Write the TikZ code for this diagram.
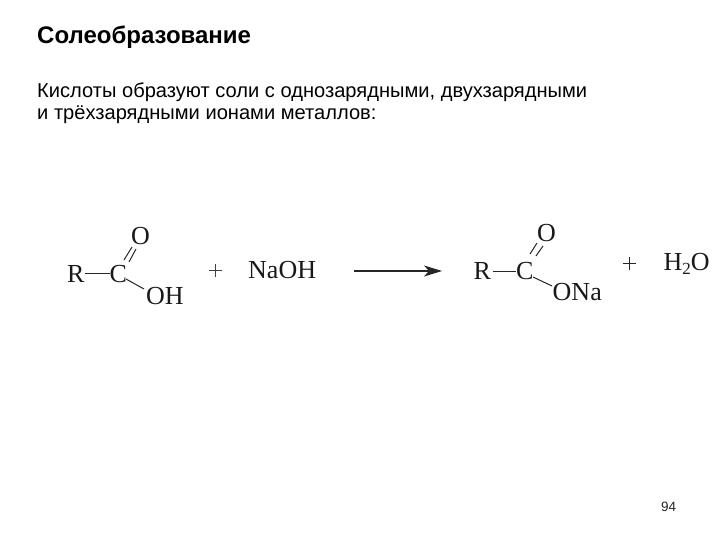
\documentclass[tikz,border=0pt]{standalone}
\usepackage{fontspec}
\setmainfont{Liberation Sans}
\newfontfamily\chem{Liberation Serif}
\usetikzlibrary{arrows.meta}
\tikzset{
  px/.style={x=1pt,y=-1pt},
  txt/.style={anchor=base west,inner sep=0pt,font=\fontsize{20.1}{22}\selectfont,text=black},
  ch/.style={anchor=base west,inner sep=0pt,font=\chem\fontsize{26}{28}\selectfont,text=black!90},
  bond/.style={line width=1pt,black!85}
}
\begin{document}
\begin{tikzpicture}[px]
\useasboundingbox (0,0) rectangle (720,540);
\fill[white] (0,0) rectangle (720,540);
\node[txt,font=\bfseries\fontsize{24}{26}\selectfont] (title) at (37,44) {Солеобразование};
\node[txt] (l1) at (37,98) {Кислоты образуют соли с однозарядными, двухзарядными};
\node[txt] (l2) at (37,120) {и трёхзарядными ионами металлов:};
% left acid
\node[ch] (r1) at (67,282) {R};
\node[ch] (c1) at (109.5,282) {C};
\node[ch] (o1) at (131,244) {O};
\node[ch] (oh1) at (146,304) {OH};
\coordinate (a1) at (85,273);
\coordinate (a2) at (110,273);
\draw[bond] (a1) -- (a2);
\coordinate (d1a) at (124,260);
\coordinate (d1b) at (132,247);
\coordinate (d2a) at (129,262);
\coordinate (d2b) at (136,249);
\draw[bond] (d1a) -- (d1b);
\draw[bond] (d2a) -- (d2b);
\coordinate (s1a) at (126,279);
\coordinate (s1b) at (144,289);
\draw[bond] (s1a) -- (s1b);
\coordinate (p1a) at (208.5,270);
\coordinate (p1b) at (221.5,270);
\coordinate (p1c) at (215,263.5);
\coordinate (p1d) at (215,276.5);
\draw[line width=0.6pt,black!75] (p1a) -- (p1b);
\draw[line width=0.6pt,black!75] (p1c) -- (p1d);
\node[ch] (naoh) at (248,278) {NaOH};
\coordinate (ar1) at (354,271);
\coordinate (ar2) at (442,271);
\draw[-{Stealth[length=18pt,width=11pt,inset=5pt]},line width=1.1pt,black!85] (ar1) -- (ar2);
% right
\node[ch] (r2) at (473.5,279) {R};
\node[ch] (c2) at (516,279) {C};
\node[ch] (o2) at (537,241) {O};
\node[ch] (ona) at (552.5,300) {ONa};
\coordinate (b1) at (493,271);
\coordinate (b2) at (516,271);
\draw[bond] (b1) -- (b2);
\coordinate (e1a) at (530,254);
\coordinate (e1b) at (537,243);
\coordinate (e2a) at (536,256);
\coordinate (e2b) at (543,246);
\draw[bond] (e1a) -- (e1b);
\draw[bond] (e2a) -- (e2b);
\coordinate (s2a) at (533,277);
\coordinate (s2b) at (552,286);
\draw[bond] (s2a) -- (s2b);
\coordinate (p2a) at (622.5,263);
\coordinate (p2b) at (635.5,263);
\coordinate (p2c) at (629,256.5);
\coordinate (p2d) at (629,269.5);
\draw[line width=1pt,black!85] (p2a) -- (p2b);
\draw[line width=1pt,black!85] (p2c) -- (p2d);
\node[ch] (h2o) at (663.5,270) {H\raisebox{-4pt}{\fontsize{17}{18}\selectfont 2}O};
\node[anchor=base west,inner sep=0pt,font=\fontsize{13.5}{15}\selectfont,text=black!85] (pg) at (661,511) {94};
\end{tikzpicture}
\end{document}
